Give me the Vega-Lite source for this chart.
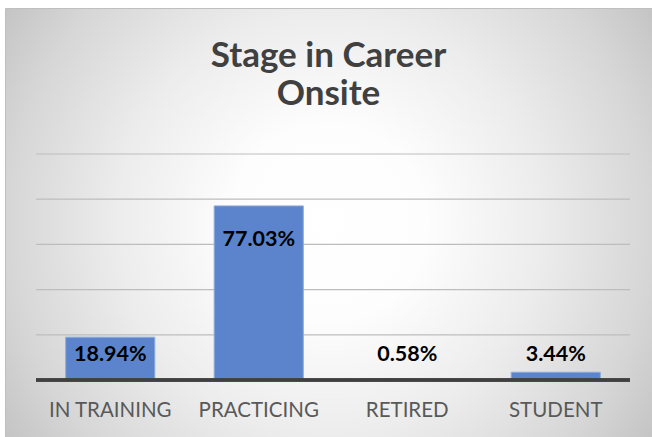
{
  "$schema": "https://vega.github.io/schema/vega-lite/v6.json",
  "autosize": "none",
  "padding": {"left": 5, "top": 8, "right": 0, "bottom": 0},
  "width": 647,
  "height": 429,
  "background": "#ffffff",
  "title": {
    "text": ["Stage in Career", "Onsite"],
    "anchor": "middle",
    "frame": "group",
    "offset": -104,
    "font": "Lato",
    "fontSize": 35,
    "fontWeight": "bold",
    "color": "#404040",
    "lineHeight": 38
  },
  "datasets": {
    "stages": [
      {"stage": "IN TRAINING", "share": 0.1894},
      {"stage": "PRACTICING", "share": 0.7703},
      {"stage": "RETIRED", "share": 0.0058},
      {"stage": "STUDENT", "share": 0.0344}
    ],
    "grid": [
      {"tick": 0.2}, {"tick": 0.4}, {"tick": 0.6}, {"tick": 0.8}, {"tick": 1.0}
    ]
  },
  "layer": [
    {
      "data": {"name": "grid"},
      "mark": {"type": "rule", "stroke": "#bdbdbd", "strokeWidth": 1.2},
      "encoding": {
        "y": {"field": "tick", "type": "quantitative"},
        "x": {"datum": "IN TRAINING", "type": "nominal", "bandPosition": -0.333},
        "x2": {"datum": "STUDENT", "bandPosition": 1.333}
      }
    },
    {
      "data": {"name": "stages"},
      "mark": {"type": "bar", "color": "#5b84cc", "stroke": "#8eaadc", "strokeWidth": 1},
      "encoding": {
        "x": {
          "field": "stage", "type": "nominal", "sort": null,
          "scale": {
            "domain": ["IN TRAINING", "PRACTICING", "RETIRED", "STUDENT"],
            "paddingInner": 0.4, "paddingOuter": 0.3784, "align": 0.54
          }
        },
        "y": {
          "field": "share", "type": "quantitative",
          "scale": {"domain": [-0.2522, 1.646], "nice": false, "zero": false}
        }
      }
    },
    {
      "data": {"name": "stages"},
      "mark": {"type": "rule", "stroke": "#404040", "strokeWidth": 3},
      "encoding": {
        "y": {"datum": 0, "type": "quantitative"},
        "x": {"datum": "IN TRAINING", "type": "nominal", "bandPosition": -0.333},
        "x2": {"datum": "STUDENT", "bandPosition": 1.333}
      }
    },
    {
      "data": {"name": "stages"},
      "transform": [{"filter": "datum.share > 0.5"}],
      "mark": {"type": "text", "font": "Lato", "fontSize": 21.5, "fontWeight": "bold", "color": "#000000", "baseline": "middle", "dy": 34},
      "encoding": {
        "x": {"field": "stage", "type": "nominal", "sort": null},
        "y": {"field": "share", "type": "quantitative"},
        "text": {"field": "share", "type": "quantitative", "format": ".2%"}
      }
    },
    {
      "data": {"name": "stages"},
      "transform": [{"filter": "datum.share <= 0.5"}],
      "mark": {"type": "text", "font": "Lato", "fontSize": 21.5, "fontWeight": "bold", "color": "#000000", "baseline": "middle"},
      "encoding": {
        "x": {"field": "stage", "type": "nominal", "sort": null},
        "y": {"datum": 0.1106, "type": "quantitative"},
        "text": {"field": "share", "type": "quantitative", "format": ".2%"}
      }
    },
    {
      "data": {"name": "stages"},
      "mark": {"type": "text", "font": "Lato", "fontSize": 20.5, "color": "#595959", "baseline": "middle", "dy": 1},
      "encoding": {
        "x": {"field": "stage", "type": "nominal", "sort": null},
        "y": {"datum": -0.1327, "type": "quantitative"},
        "text": {"field": "stage", "type": "nominal"}
      }
    }
  ],
  "resolve": {"scale": {"x": "shared", "y": "shared"}},
  "encoding": {},
  "config": {
    "axis": {"disable": true},
    "view": {
      "stroke": "#bfbfbf",
      "strokeWidth": 1,
      "fill": {
        "gradient": "radial",
        "x1": 0.5, "y1": 0.5, "r1": 0,
        "x2": 0.5, "y2": 0.5, "r2": 0.6,
        "stops": [
          {"offset": 0, "color": "#ffffff"},
          {"offset": 0.25, "color": "#fdfdfd"},
          {"offset": 0.55, "color": "#ececec"},
          {"offset": 0.83, "color": "#d6d6d6"},
          {"offset": 1, "color": "#c4c4c4"}
        ]
      }
    }
  }
}
